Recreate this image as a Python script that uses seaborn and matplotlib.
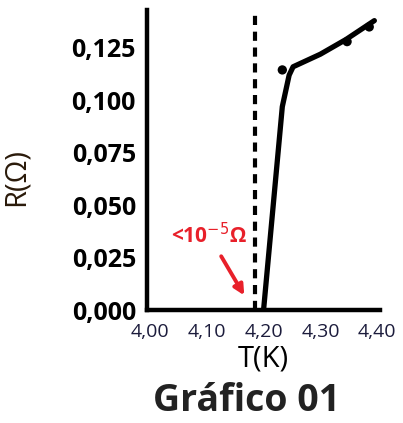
import matplotlib
matplotlib.use("Agg")
import matplotlib.pyplot as plt
import seaborn as sns
import pandas as pd

# Curve
temp_k = [4.200, 4.233, 4.245, 4.252, 4.300, 4.345, 4.395]
res_ohm = [0.000, 0.097, 0.112, 0.116, 0.122, 0.129, 0.138]

# Measured points (markers)
pt_temp = [4.233, 4.347, 4.386]
pt_res = [0.1145, 0.128, 0.135]

tc = 4.185

x_ticks = [4.00, 4.10, 4.20, 4.30, 4.40]
x_labels = ["4,00", "4,10", "4,20", "4,30", "4,40"]
y_ticks = [0.000, 0.025, 0.050, 0.075, 0.100, 0.125]
y_labels = ["0,000", "0,025", "0,050", "0,075", "0,100", "0,125"]

sns.set_style("white")
plt.rcParams["font.family"] = ["Open Sans", "DejaVu Sans"]

curve = pd.DataFrame({"T": temp_k, "R": res_ohm})
points = pd.DataFrame({"T": pt_temp, "R": pt_res})

fig = plt.figure(figsize=(4.03, 4.23), dpi=100)
ax = fig.add_axes([0.365, 0.267, 0.578, 0.709])

sns.lineplot(data=curve, x="T", y="R", color="black", lw=3.8, ax=ax)
sns.scatterplot(data=points, x="T", y="R", color="black", s=45, edgecolor="none", ax=ax)
ax.axvline(tc, color="black", ls=(0, (2.2, 1.6)), lw=3)

# red annotation near the transition
ax.annotate(
    "<10$^{-5}$Ω",
    xy=(4.166, 0.007),
    xytext=(4.104, 0.0355),
    color="#e8202a",
    fontsize=15,
    fontweight="bold",
    ha="center",
    va="center",
    arrowprops=dict(arrowstyle="-|>", color="#e8202a", lw=2.8, shrinkA=4, shrinkB=0),
)

ax.set_xlim(3.995, 4.405)
ax.set_ylim(0, 0.143)
ax.set_xticks(x_ticks)
ax.set_xticklabels(x_labels, fontsize=14, color="#1c1c3c")
ax.set_yticks(y_ticks)
ax.set_yticklabels(y_labels, fontsize=18, fontweight="bold", color="black")
ax.tick_params(direction="in", length=7, width=2.5, colors="black")
ax.tick_params(axis="x", pad=9, labelcolor="#1c1c3c")
ax.tick_params(axis="y", pad=8)

sns.despine(ax=ax)
for side in ["left", "bottom"]:
    ax.spines[side].set_linewidth(3.2)
    ax.spines[side].set_color("black")

ax.set_xlabel("T(K)", fontsize=21, color="black")
ax.xaxis.set_label_coords(0.5, -0.115)
ax.set_ylabel("R(Ω)", fontsize=21, color="#2a1a0a")
ax.yaxis.set_label_coords(-0.50, 0.443)

fig.text(0.612, 0.052, "Gráfico 01", fontsize=27, fontweight="bold",
         color="#222222", ha="center", va="center")

fig.savefig("out.png", dpi=100)
